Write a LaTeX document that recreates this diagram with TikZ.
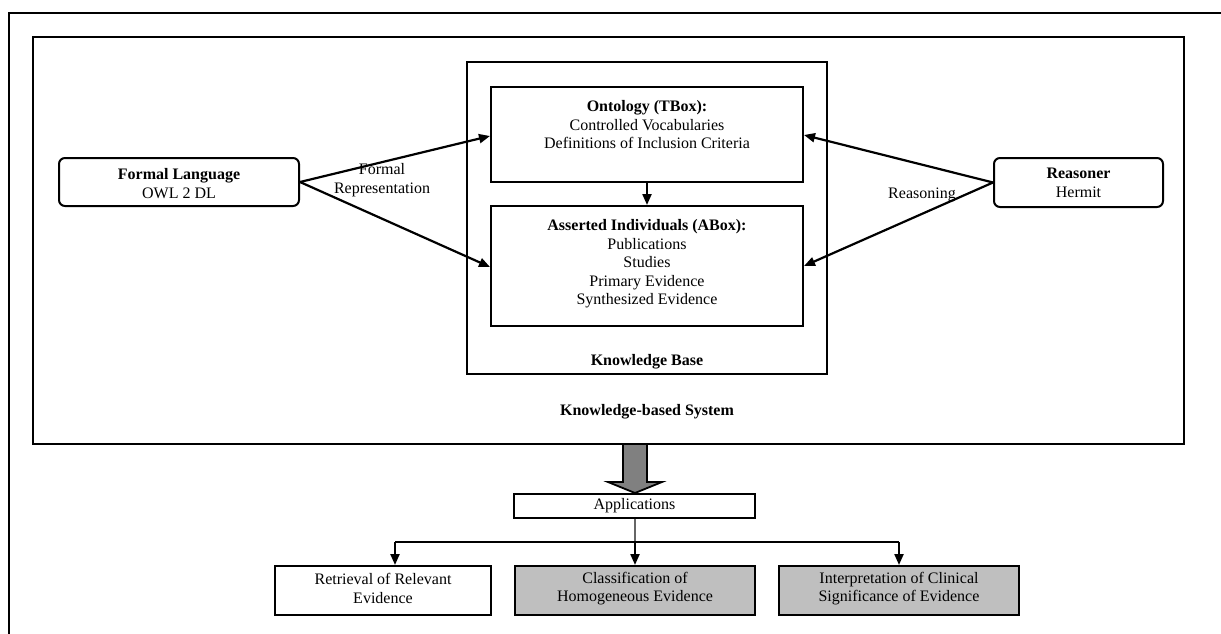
\documentclass[tikz,border=0pt]{standalone}
\usepackage{fontspec}
\setmainfont{Liberation Serif}
\usetikzlibrary{arrows.meta}
\begin{document}
\begin{tikzpicture}[x=1pt,y=-1pt,
  box/.style={draw,line width=2pt,rectangle,inner sep=0pt,anchor=center},
  rbox/.style={box,rounded corners=6pt},
  txt/.style={font=\fontsize{16}{18.5}\selectfont,align=center,inner sep=0pt,anchor=center},
  arr/.style={line width=2.2pt,-{Triangle[length=11pt,width=9pt]}},
  gfill/.style={fill=black!25}]
\clip (0,0) rectangle (1221,634);
% outer frame (cropped)
\draw[line width=1.5pt] (9,700) -- (9,13) -- (1300,13);
% system box
\node[box,minimum width=1151pt,minimum height=407pt] (sys) at (608.5,240.5) {};
\node[box,minimum width=360pt,minimum height=312pt] (kb) at (647,218) {};
\node[box,minimum width=312pt,minimum height=95pt] (tbox) at (647,134.5) {};
\node[box,minimum width=312pt,minimum height=120pt] (abox) at (647,266) {};
\node[txt] (tboxt) at (647,125) {\textbf{Ontology (TBox):}\\Controlled Vocabularies\\Definitions of Inclusion Criteria};
\node[txt] (aboxt) at (647,264) {\textbf{Asserted Individuals (ABox):}\\Publications\\Studies\\Primary Evidence\\Synthesized Evidence};
\node[txt] (kbt) at (647,362) {\textbf{Knowledge Base}};
\node[txt] (syst) at (647,412) {\textbf{Knowledge-based System}};
% side boxes
\node[rbox,minimum width=240pt,minimum height=48pt] (fl) at (179,182) {};
\node[txt] (flt) at (179,183.5) {\textbf{Formal Language}\\OWL 2 DL};
\node[rbox,minimum width=169pt,minimum height=49pt] (rs) at (1078.5,182.5) {};
\node[txt] (rst) at (1078.5,183) {\textbf{Reasoner}\\Hermit};
% arrows
\coordinate (t1) at (tbox.west |- 0,136);
\coordinate (a1) at (abox.west |- 0,267);
\coordinate (t2) at (tbox.east |- 0,135);
\coordinate (a2) at (abox.east |- 0,266);
\draw[arr] (fl.east) -- (t1);
\draw[arr] (fl.east) -- (a1);
\draw[arr] (rs.west) -- (t2);
\draw[arr] (rs.west) -- (a2);
\draw[arr] (tbox.south) -- (abox.north);
\node[txt] (frl) at (382,180) {Formal\\Representation};
\node[txt] (rsl) at (922,195) {Reasoning};
% big arrow
\draw[line width=1.8pt,fill=black!50,line join=miter]
  (623,444) -- (647,444) -- (647,482) -- (662,482) -- (635,493) -- (608,482) -- (623,482) -- cycle;
% applications
\node[box,line width=1.6pt,minimum width=241pt,minimum height=24pt] (app) at (634.5,506) {};
\node[txt] (appt) at (634.5,506) {Applications};
\node[box,minimum width=216pt,minimum height=49pt] (ret) at (383,590.5) {};
\node[box,gfill,minimum width=240pt,minimum height=49pt] (cls) at (635,590.5) {};
\node[box,gfill,minimum width=240pt,minimum height=49pt] (int) at (899,590.5) {};
\node[txt] (rett) at (383,588.5) {Retrieval of Relevant\\Evidence};
\node[txt] (clst) at (635,588.5) {Classification of\\Homogeneous Evidence};
\node[txt] (intt) at (899,588.5) {Interpretation of Clinical\\Significance of Evidence};
\coordinate (jm) at (635,542);
\coordinate (jl) at (395,542);
\coordinate (jr) at (899,542);
\draw[black!60,line width=1.1pt] (app.south -| jm) -- (jm);
\draw[line width=1.2pt] (jl) -- (jr);
\draw[arr] (jl) -- (jl |- ret.north);
\draw[arr] (jm) -- (cls.north);
\draw[arr] (jr) -- (int.north);
\end{tikzpicture}
\end{document}
